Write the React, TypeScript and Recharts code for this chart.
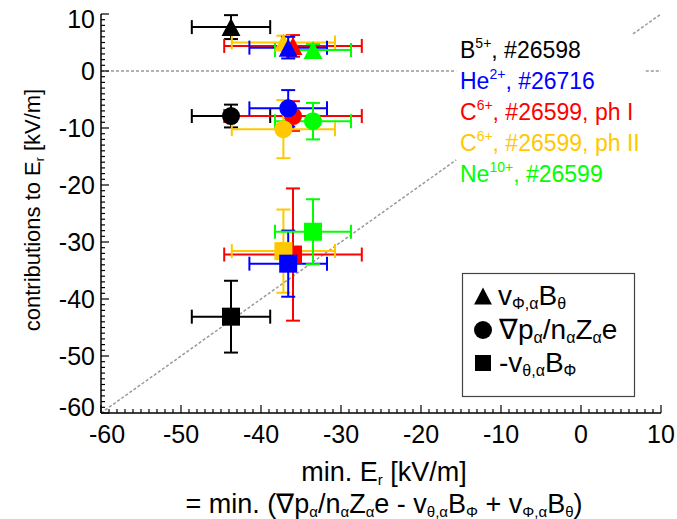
import React from 'react';
import { ScatterChart, Scatter, XAxis, YAxis, ErrorBar, ReferenceLine, Customized } from 'recharts';

const FONT = '"Liberation Sans", Arial, Helvetica, sans-serif';

// Species (legend order)
const ionNames = ['B', 'He', 'C', 'C', 'Ne'];
const ionCharges = ['5+', '2+', '6+', '6+', '10+'];
const ionShots = [', #26598', ', #26716', ', #26599, ph I', ', #26599, ph II', ', #26599'];
const ionColors = ['#000000', '#0000ff', '#ff0000', '#ffc800', '#00ff00'];
const drawOrder = [0, 2, 3, 1, 4];

// x: minimum of Er and its error
const minEr = [-43.75, -36.6, -36.0, -37.2, -33.5];
const minErErr = [4.9, 4.85, 8.6, 6.45, 4.75];
// triangles: v_phi B_theta
const vPhiB = [7.7, 4.1, 4.4, 5.0, 3.7];
const vPhiBErr = [2.1, 1.9, 1.9, 1.2, 1.0];
// circles: grad p / n Z e
const gradP = [-7.9, -6.55, -7.9, -10.2, -8.8];
const gradPErr = [2.0, 3.2, 2.6, 5.1, 3.2];
// squares: - v_theta B_phi
const vThetaB = [-43.1, -33.8, -32.2, -31.6, -28.2];
const vThetaBErr = [6.3, 5.8, 11.6, 7.3, 5.7];

const xDomain = [-60, 10];
const yDomain = [-60, 10];
const xTicks = Array.from({ length: 71 }, (_, i) => -60 + i);
const yTicks = Array.from({ length: 71 }, (_, i) => -60 + i);

// dashed guide lines (zero line and y = x), interrupted behind the species labels
const zeroLineGap = [-15.6, 8.1];
const diagonalGap = [-15.6, 6.5];

const seriesData = ionNames.map((_, i) => [
  { x: minEr[i], y: vPhiB[i], ex: minErErr[i], ey: vPhiBErr[i], kind: 'tri' },
  { x: minEr[i], y: gradP[i], ex: minErErr[i], ey: gradPErr[i], kind: 'circ' },
  { x: minEr[i], y: vThetaB[i], ex: minErErr[i], ey: vThetaBErr[i], kind: 'sq' },
]);

const Marker = ({ cx, cy, kind, color, s = 18 }: any) => {
  const h = s / 2;
  if (kind === 'tri') {
    return <polygon points={`${cx},${cy - h} ${cx + h * 1.05},${cy + h} ${cx - h * 1.05},${cy + h}`} fill={color} />;
  }
  if (kind === 'circ') return <circle cx={cx} cy={cy} r={h} fill={color} />;
  return <rect x={cx - h} y={cy - h} width={s} height={s} fill={color} />;
};

const makeShape = (color: string) => (props: any) => {
  const { cx, cy, payload } = props;
  if (cx == null || cy == null) return <g />;
  return <Marker cx={cx} cy={cy} kind={payload.kind} color={color} />;
};

const BottomTick = (props: any) => {
  const { x, y, payload } = props;
  const v = payload.value;
  const major = v % 10 === 0;
  return (
    <g>
      <line x1={x} x2={x} y1={y} y2={y - (major ? 8 : 4)} stroke="#000" strokeWidth={1.2} />
      {major && (
        <text x={x + (v === -60 ? 6 : 0)} y={y + 30} textAnchor="middle" fontSize={25} fontFamily={FONT} fill="#000">
          {v}
        </text>
      )}
    </g>
  );
};

const TopTick = (props: any) => {
  const { x, y, payload } = props;
  const major = payload.value % 10 === 0;
  return <line x1={x} x2={x} y1={y} y2={y + (major ? 8 : 4)} stroke="#000" strokeWidth={1.2} />;
};

const LeftTick = (props: any) => {
  const { x, y, payload } = props;
  const v = payload.value;
  const major = v % 10 === 0;
  const dy = v === 10 ? 4.5 : v === -60 ? -6.5 : 0;
  return (
    <g>
      <line x1={x} x2={x + (major ? 8 : 4)} y1={y} y2={y} stroke="#000" strokeWidth={1.2} />
      {major && (
        <text x={x - 6} y={y + 9 + dy} textAnchor="end" fontSize={25} fontFamily={FONT} fill="#000">
          {v}
        </text>
      )}
    </g>
  );
};

const RightTick = (props: any) => {
  const { x, y, payload } = props;
  const major = payload.value % 10 === 0;
  return <line x1={x} x2={x - (major ? 8 : 4)} y1={y} y2={y} stroke="#000" strokeWidth={1.2} />;
};

const Annotations = () => {
  const sub = 16;
  const tsub = 15;
  return (
    <g fontFamily={FONT}>
      {ionNames.map((n, i) => (
        <text key={i} x={460} y={58 + i * 31} fontSize={23} fill={ionColors[i]}>
          <tspan>{n}</tspan>
          <tspan fontSize={14} dy={-10}>{ionCharges[i]}</tspan>
          <tspan dy={10}>{ionShots[i]}</tspan>
        </text>
      ))}
      {/* marker legend */}
      <rect x={462.5} y={273.5} width={172} height={123} fill="#fff" stroke="#444" strokeWidth={1.2} />
      <Marker cx={483} cy={296} kind="tri" color="#000" s={17} />
      <Marker cx={483} cy={330} kind="circ" color="#000" s={18} />
      <Marker cx={483} cy={363} kind="sq" color="#000" s={16} />
      <text x={498} y={305} fontSize={28} fill="#000">
        <tspan>v</tspan>
        <tspan fontSize={sub} dy={4}>Φ,α</tspan>
        <tspan dy={-4}>B</tspan>
        <tspan fontSize={sub} dy={4}>θ</tspan>
      </text>
      <text x={499} y={339} fontSize={28} fill="#000">
        <tspan>∇p</tspan>
        <tspan fontSize={sub} dy={4}>α</tspan>
        <tspan dy={-4}>/n</tspan>
        <tspan fontSize={sub} dy={4}>α</tspan>
        <tspan dy={-4}>Z</tspan>
        <tspan fontSize={sub} dy={4}>α</tspan>
        <tspan dy={-4}>e</tspan>
      </text>
      <text x={499} y={372} fontSize={28} fill="#000">
        <tspan>-v</tspan>
        <tspan fontSize={sub} dy={4}>θ,α</tspan>
        <tspan dy={-4}>B</tspan>
        <tspan fontSize={sub} dy={4}>Φ</tspan>
      </text>
      {/* axis titles */}
      <text x={384} y={481} fontSize={27} textAnchor="middle" fill="#000">
        <tspan>min. E</tspan>
        <tspan fontSize={tsub} dy={4}>r</tspan>
        <tspan dy={-4}> [kV/m]</tspan>
      </text>
      <text x={384} y={513} fontSize={27} textAnchor="middle" fill="#000">
        <tspan>= min. (∇p</tspan>
        <tspan fontSize={tsub} dy={4}>α</tspan>
        <tspan dy={-4}>/n</tspan>
        <tspan fontSize={tsub} dy={4}>α</tspan>
        <tspan dy={-4}>Z</tspan>
        <tspan fontSize={tsub} dy={4}>α</tspan>
        <tspan dy={-4}>e - v</tspan>
        <tspan fontSize={tsub} dy={4}>θ,α</tspan>
        <tspan dy={-4}>B</tspan>
        <tspan fontSize={tsub} dy={4}>Φ</tspan>
        <tspan dy={-4}> + v</tspan>
        <tspan fontSize={tsub} dy={4}>Φ,α</tspan>
        <tspan dy={-4}>B</tspan>
        <tspan fontSize={tsub} dy={4}>θ</tspan>
        <tspan dy={-4}>)</tspan>
      </text>
      <text transform="translate(40,210) rotate(-90)" fontSize={22} textAnchor="middle" fill="#000">
        <tspan>contributions to E</tspan>
        <tspan fontSize={12} dy={4}>r</tspan>
        <tspan dy={-4}> [kV/m]</tspan>
      </text>
    </g>
  );
};

const guideProps = { stroke: '#999', strokeWidth: 1.5, strokeDasharray: '3 2' };

export default function App() {
  return (
    <div style={{ position: 'absolute', left: 0, top: 0, background: '#fff' }}>
      <ScatterChart width={677} height={519} margin={{ top: 14, right: 16, bottom: 0, left: 0 }}>
        <XAxis
          type="number"
          dataKey="x"
          domain={xDomain}
          ticks={xTicks}
          interval={0}
          allowDataOverflow
          height={106}
          tickSize={0}
          tickMargin={0}
          tickLine={false}
          tick={BottomTick}
          axisLine={{ stroke: '#000', strokeWidth: 1.5 }}
        />
        <XAxis
          xAxisId="top"
          orientation="top"
          type="number"
          domain={xDomain}
          ticks={xTicks}
          interval={0}
          allowDataOverflow
          height={0}
          tickSize={0}
          tickMargin={0}
          tickLine={false}
          tick={TopTick}
          axisLine={{ stroke: '#000', strokeWidth: 1.5 }}
        />
        <YAxis
          type="number"
          dataKey="y"
          domain={yDomain}
          ticks={yTicks}
          interval={0}
          allowDataOverflow
          width={101}
          tickSize={0}
          tickMargin={0}
          tickLine={false}
          tick={LeftTick}
          axisLine={{ stroke: '#000', strokeWidth: 1.5 }}
        />
        <YAxis
          yAxisId="right"
          orientation="right"
          type="number"
          domain={yDomain}
          ticks={yTicks}
          interval={0}
          allowDataOverflow
          width={0}
          tickSize={0}
          tickMargin={0}
          tickLine={false}
          tick={RightTick}
          axisLine={{ stroke: '#000', strokeWidth: 1.5 }}
        />
        <ReferenceLine segment={[{ x: xDomain[0], y: 0 }, { x: zeroLineGap[0], y: 0 }]} {...guideProps} />
        <ReferenceLine segment={[{ x: zeroLineGap[1], y: 0 }, { x: xDomain[1], y: 0 }]} {...guideProps} />
        <ReferenceLine
          segment={[{ x: xDomain[0], y: yDomain[0] }, { x: diagonalGap[0], y: diagonalGap[0] }]}
          {...guideProps}
        />
        <ReferenceLine
          segment={[{ x: diagonalGap[1], y: diagonalGap[1] }, { x: xDomain[1], y: yDomain[1] }]}
          {...guideProps}
        />
        <Customized component={Annotations} />
        {drawOrder.map((i) => (
          <Scatter
            key={i}
            data={seriesData[i]}
            fill={ionColors[i]}
            shape={makeShape(ionColors[i])}
            isAnimationActive={false}
          >
            <ErrorBar dataKey="ex" direction="x" stroke={ionColors[i]} strokeWidth={2} width={7} />
            <ErrorBar dataKey="ey" direction="y" stroke={ionColors[i]} strokeWidth={2} width={7} />
          </Scatter>
        ))}
      </ScatterChart>
    </div>
  );
}
